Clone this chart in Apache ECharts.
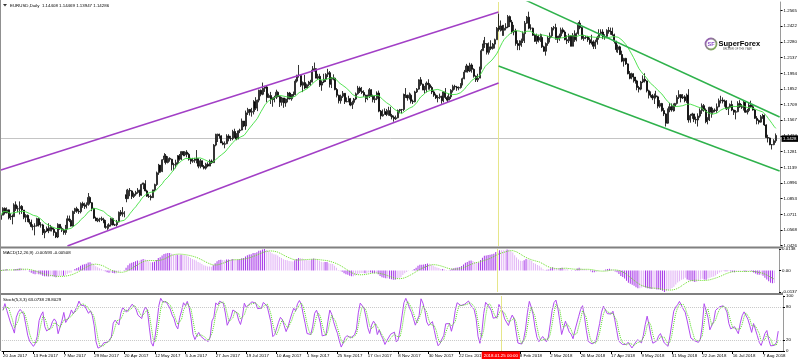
<!DOCTYPE html>
<html><head><meta charset="utf-8">
<script src="https://cdn.jsdelivr.net/npm/echarts@6/dist/echarts.min.js"></script>
<style>html,body{margin:0;padding:0;background:#fff}#c{width:800px;height:360px}</style>
</head><body><div id="c"></div>
<script>
// ---- DATA (EURUSD daily, prices x 10000) ----
const firstDay = '2017-01-20';
const noTradeDays = ['2017-12-25', '2018-01-01'];
const open = [10665,
10703,10766,10724,10752,10680,10695,10690,10798,10762,
10762,10784,10750,10684,10702,10657,10639,10600,10604,10605,
10672,10615,10615,10543,10560,10580,10562,10589,10575,10546,
10505,10620,10582,10567,10546,10581,10671,10655,10604,10737,
10763,10740,10735,10809,10790,10785,10798,10865,10817,10765,
10677,10652,10667,10672,10662,10644,10592,10600,10615,10672,
10614,10616,10642,10730,10714,10716,10890,10854,10929,10924,
10873,10895,10910,10931,10886,10983,10990,10924,10876,10873,
10863,10934,10982,11089,11158,11101,11208,11242,11183,11220,
11212,11163,11162,11181,11243,11213,11282,11252,11277,11257,
11212,11195,11202,11215,11216,11149,11199,11147,11131,11167,
11150,11196,11181,11341,11380,11440,11425,11360,11348,11354,
11424,11402,11400,11465,11414,11396,11471,11478,11560,11515,
11635,11665,11641,11646,11735,11677,11750,11840,11803,11858,
11870,11773,11792,11755,11758,11775,11822,11782,11730,11770,
11725,11760,11815,11763,11800,11800,11923,11977,11974,11886,
11910,11860,11890,11915,11918,12023,12036,11950,11967,11887,
11915,11940,11985,12000,11895,11940,11950,11846,11794,11745,
11785,11812,11735,11738,11763,11705,11730,11760,11808,11860,
11830,11820,11795,11765,11785,11845,11785,11755,11763,11815,
11650,11607,11620,11645,11620,11655,11610,11595,11580,11590,
11655,11665,11665,11800,11795,11770,11795,11740,11735,11825,
11850,11935,11895,11845,11845,11905,11890,11865,11825,11795,
11770,11775,11785,11745,11825,11775,11750,11780,11840,11875,
11870,11860,11865,11890,11945,12005,12060,12015,12070,12030,
11968,11935,11950,12035,12200,12262,12265,12185,12235,12220,
12260,12300,12405,12395,12425,12385,12405,12415,12510,12460,
12370,12380,12265,12250,12250,12290,12355,12450,12505,12405,
12405,12340,12285,12330,12295,12320,12235,12195,12265,12315,
12335,12405,12410,12310,12305,12335,12390,12370,12300,12290,
12335,12240,12340,12300,12355,12450,12410,12310,12320,12325,
12300,12270,12280,12240,12280,12320,12355,12370,12325,12330,
12385,12375,12375,12345,12285,12210,12235,12165,12105,12130,
12080,11990,11950,11990,11960,11925,11865,11850,11915,11940,
11925,11835,11810,11795,11770,11790,11780,11695,11720,11655,
11625,11540,11665,11690,11660,11695,11720,11775,11800,11770,
11780,11745,11795,11570,11610,11625,11575,11570,11605,11655,
11700,11660,11555,11570,11685,11640,11660,11655,11690,11745,
11750,11740,11740,11670,11685,11710,11660,11640,11645,11720,
11690,11685,11730,11640,11655,11705,11690,11660,11585,11565,
11550,11600,11610,11525,11410,11405,11345,11345,11380];
const high = [
10718,10775,10774,10774,10755,10720,10710,10812,10829,10790,
10829,10795,10750,10713,10710,10670,10663,10621,10630,10680,
10680,10640,10625,10577,10600,10630,10615,10600,10590,10555,
10630,10620,10600,10580,10615,10700,10700,10670,10745,10770,
10780,10760,10820,10826,10817,10820,10905,10875,10822,10770,
10690,10680,10680,10690,10680,10660,10620,10630,10680,10680,
10625,10660,10737,10750,10777,10740,10936,10943,10950,10930,
10910,10925,10950,10935,10990,10998,11022,10935,10898,10890,
10935,10990,11100,11170,11160,11213,11268,11260,11240,11230,
11217,11180,11208,11250,11260,11285,11285,11285,11295,11270,
11225,11225,11225,11296,11220,11215,11200,11160,11180,11185,
11210,11210,11350,11445,11445,11445,11430,11375,11375,11440,
11440,11425,11480,11490,11450,11475,11490,11583,11560,11655,
11680,11670,11680,11750,11777,11755,11845,11847,11910,11880,
11885,11810,11825,11775,11790,11845,11830,11790,11780,11770,
11765,11825,11825,11805,11828,11940,11980,12070,11982,11920,
11980,11900,11925,11935,12060,12092,12040,11990,11990,11930,
11990,11995,12035,12015,11960,11985,11955,11860,11800,11800,
11833,11815,11775,11790,11770,11745,11770,11820,11880,11875,
11870,11840,11800,11800,11860,11850,11800,11790,11830,11837,
11660,11665,11675,11670,11690,11690,11625,11610,11610,11665,
11670,11670,11810,11860,11800,11820,11810,11755,11835,11860,
11940,11960,11900,11880,11920,11940,11905,11880,11840,11810,
11795,11810,11790,11830,11860,11790,11810,11850,11890,11890,
11880,11875,11905,11955,12025,12080,12065,12090,12085,12040,
11975,11990,12055,12215,12295,12325,12265,12275,12295,12270,
12310,12415,12537,12475,12435,12435,12450,12525,12520,12480,
12435,12400,12295,12295,12310,12375,12470,12515,12555,12440,
12410,12355,12355,12345,12355,12350,12245,12275,12335,12365,
12415,12425,12445,12335,12355,12410,12410,12385,12340,12355,
12340,12360,12385,12365,12460,12476,12415,12345,12335,12335,
12320,12345,12295,12300,12335,12395,12395,12395,12350,12395,
12415,12410,12410,12355,12290,12255,12245,12200,12135,12135,
12085,12015,12000,11995,11955,11935,11880,11925,11975,11995,
11930,11845,11830,11805,11810,11835,11790,11750,11725,11680,
11630,11675,11725,11720,11720,11725,11795,11840,11805,11805,
11795,11810,11850,11625,11635,11625,11600,11630,11675,11720,
11715,11675,11595,11690,11690,11680,11675,11720,11765,11790,
11775,11755,11750,11690,11720,11745,11665,11660,11740,11750,
11715,11745,11740,11670,11725,11745,11710,11670,11605,11575,
11615,11625,11620,11530,11435,11410,11350,11395,11447];
const low = [
10660,10703,10709,10720,10665,10660,10620,10687,10742,10730,
10710,10715,10667,10640,10640,10620,10592,10566,10520,10600,
10600,10590,10523,10494,10550,10540,10557,10555,10516,10495,
10495,10570,10550,10525,10525,10575,10640,10600,10600,10715,
10725,10715,10720,10770,10760,10765,10790,10800,10740,10670,
10650,10640,10640,10650,10630,10580,10570,10580,10600,10610,
10605,10600,10638,10695,10690,10684,10821,10850,10876,10850,
10860,10880,10898,10870,10880,10940,10920,10870,10860,10838,
10860,10920,10970,11070,11090,11095,11180,11165,11175,11190,
11110,11110,11130,11165,11200,11205,11240,11240,11230,11200,
11168,11180,11180,11175,11130,11130,11140,11120,11118,11140,
11150,11170,11180,11330,11370,11400,11360,11340,11312,11350,
11375,11380,11385,11405,11385,11395,11450,11475,11505,11480,
11615,11610,11600,11620,11660,11650,11730,11785,11795,11825,
11730,11770,11715,11690,11730,11760,11775,11688,11700,11680,
11690,11730,11755,11745,11780,11795,11910,11955,11870,11823,
11850,11860,11875,11880,11910,12010,11950,11935,11870,11835,
11905,11915,11960,11865,11860,11930,11840,11775,11720,11718,
11770,11715,11730,11730,11695,11670,11710,11750,11800,11815,
11805,11780,11730,11750,11770,11780,11730,11725,11750,11640,
11575,11600,11620,11605,11608,11600,11575,11554,11570,11585,
11630,11630,11650,11770,11745,11755,11720,11715,11730,11815,
11845,11880,11840,11810,11820,11845,11845,11805,11780,11760,
11730,11760,11717,11730,11760,11730,11750,11760,11820,11845,
11835,11840,11855,11885,11940,12005,12000,12005,12000,11955,
11915,11915,11950,12030,12200,12225,12165,12165,12205,12210,
12220,12300,12375,12375,12335,12335,12385,12405,12415,12355,
12340,12245,12205,12205,12235,12270,12270,12445,12395,12385,
12335,12280,12260,12275,12280,12225,12190,12155,12245,12275,
12320,12385,12300,12270,12290,12315,12355,12295,12260,12270,
12240,12240,12280,12285,12345,12395,12300,12290,12305,12280,
12255,12255,12215,12215,12255,12300,12345,12305,12300,12315,
12355,12345,12335,12265,12185,12180,12160,12095,12055,12070,
11985,11940,11940,11910,11900,11840,11820,11840,11905,11910,
11820,11765,11775,11750,11715,11765,11675,11680,11645,11605,
11510,11535,11640,11645,11645,11650,11710,11760,11730,11760,
11730,11725,11545,11545,11580,11550,11535,11510,11590,11625,
11645,11540,11530,11560,11590,11620,11640,11635,11685,11720,
11720,11690,11660,11615,11675,11650,11615,11575,11640,11680,
11670,11655,11635,11620,11640,11680,11655,11580,11530,11530,
11545,11580,11515,11405,11365,11340,11301,11340,11362];
const close = [
10703,10766,10724,10752,10680,10695,10690,10798,10762,10762,
10784,10750,10684,10702,10657,10639,10600,10604,10605,10672,
10615,10615,10543,10560,10580,10562,10589,10575,10546,10505,
10620,10582,10567,10546,10581,10671,10655,10604,10737,10763,
10740,10735,10809,10790,10785,10798,10865,10817,10765,10677,
10652,10667,10672,10662,10644,10592,10600,10615,10672,10614,
10616,10642,10730,10714,10716,10726,10854,10929,10924,10873,
10895,10910,10931,10886,10983,10997,10924,10876,10873,10863,
10934,10982,11089,11158,11101,11208,11242,11183,11220,11212,
11163,11162,11181,11243,11213,11282,11252,11277,11257,11212,
11195,11202,11215,11216,11149,11199,11147,11131,11167,11150,
11196,11181,11341,11380,11440,11425,11360,11348,11354,11424,
11402,11400,11465,11414,11396,11471,11478,11560,11515,11635,
11665,11641,11646,11735,11677,11750,11840,11803,11858,11870,
11773,11792,11755,11758,11775,11822,11782,11730,11770,11725,
11760,11815,11763,11800,11800,11923,11977,11974,11886,11910,
11860,11890,11915,11918,12023,12036,11950,11967,11887,11915,
11940,11985,12000,11895,11940,11950,11846,11794,11745,11785,
11812,11735,11738,11763,11705,11730,11760,11808,11860,11830,
11820,11795,11765,11785,11845,11785,11755,11763,11815,11650,
11607,11620,11645,11620,11655,11610,11595,11580,11590,11655,
11665,11665,11800,11795,11770,11795,11740,11735,11825,11850,
11935,11895,11845,11845,11905,11890,11865,11825,11795,11770,
11775,11785,11745,11825,11775,11750,11780,11840,11875,11870,
11860,11865,11890,11945,12005,12060,12015,12070,12030,11968,
11935,11950,12035,12200,12262,12265,12185,12235,12220,12260,
12300,12405,12395,12425,12385,12405,12415,12510,12460,12370,
12380,12265,12250,12250,12290,12355,12450,12505,12405,12405,
12340,12285,12330,12295,12320,12235,12195,12265,12315,12335,
12405,12410,12310,12305,12335,12390,12370,12300,12290,12335,
12240,12340,12300,12355,12450,12410,12310,12320,12325,12300,
12270,12280,12240,12280,12320,12355,12370,12325,12330,12385,
12375,12375,12345,12285,12210,12235,12165,12105,12130,12080,
11990,11950,11990,11960,11925,11865,11850,11915,11940,11925,
11835,11810,11795,11770,11790,11780,11695,11720,11655,11625,
11540,11665,11690,11660,11695,11720,11775,11800,11770,11780,
11745,11795,11570,11610,11625,11575,11570,11605,11655,11700,
11660,11555,11570,11685,11640,11660,11655,11690,11745,11750,
11740,11740,11670,11685,11710,11660,11640,11645,11720,11690,
11685,11730,11640,11655,11705,11690,11660,11585,11565,11550,
11600,11610,11525,11410,11405,11345,11345,11380,11428.6];

// price-axis tick labels
const priceTicks = [1.0426,1.0568,1.0711,1.0853,1.0996,1.1139,1.1281,1.1424,1.1567,1.1709,1.1852,1.1994,1.2137,1.2280,1.2422,1.2565];
const stochTicks = [0, 20, 80, 100];
const stochLevels = [20, 80];
// drawn objects: [bar index, price]
const purpleUpper = [[0, 1.1115], [262, 1.2552]];
const purpleLower = [[35, 1.0423], [262, 1.1906]];
const greenUpper = [[276, 1.2662], [410, 1.1597]];
const greenLower = [[262, 1.2061], [410, 1.1105]];
const markerIndex = 262;
const markerLabel = '2018.01.25 00:00';
const headerText = 'EURUSD,Daily  1.14408 1.14469 1.13947 1.14286';
const macdText = 'MACD(12,26,9) -0.00593 -0.00508';
const stochText = 'Stoch(5,3,3) 63.0738 28.8029';

// ---- BUILD ----
const MONTHS = ['Jan','Feb','Mar','Apr','May','Jun','Jul','Aug','Sep','Oct','Nov','Dec'];
const cats = [];
{ let d = new Date(firstDay + 'T00:00:00Z');
  while (cats.length < close.length) {
    const iso = d.toISOString().slice(0, 10), dow = d.getUTCDay();
    if (dow !== 0 && dow !== 6 && noTradeDays.indexOf(iso) < 0)
      cats.push(d.getUTCDate() + ' ' + MONTHS[d.getUTCMonth()] + ' ' + d.getUTCFullYear());
    d = new Date(d.getTime() + 86400000);
  } }
cats.push('', '');
const P = v => v / 10000;
const C = close.map(P), H = high.map(P), L = low.map(P), O = open.map(P);
const candle = C.map((c, i) => [O[i], c, L[i], H[i]]);
// indicators derived from the price arrays
function sma(a, n) { return a.map((v, i) => { const s = Math.max(0, i - n + 1); let t = 0; for (let j = s; j <= i; j++) t += a[j]; return t / (i - s + 1); }); }
function ema(a, n) { const k = 2 / (n + 1), o = []; a.forEach((v, i) => o.push(i ? o[i - 1] + k * (v - o[i - 1]) : v)); return o; }
const ma = sma(C, 13);
const e12 = ema(C, 12), e26 = ema(C, 26);
const macd = C.map((c, i) => e12[i] - e26[i]);
const macdSig = sma(macd, 9);
const num = [], den = [];
C.forEach((c, i) => { let hh = -1e9, ll = 1e9; for (let j = Math.max(0, i - 4); j <= i; j++) { hh = Math.max(hh, H[j]); ll = Math.min(ll, L[j]); } num.push(c - ll); den.push(hh - ll); });
const stK = C.map((c, i) => { let a = 0, b = 0; for (let j = Math.max(0, i - 2); j <= i; j++) { a += num[j]; b += den[j]; } return b ? 100 * a / b : 50; });
const stD = sma(stK, 3);
const macdBars = macd.map((v, i) => ({ value: v, itemStyle: { color: (i === 0 || Math.abs(v) >= Math.abs(macd[i - 1])) ? '#a838e8' : '#e2b4f6' } }));
const mAll = macd.concat(macdSig);
const mMax = Math.max.apply(null, mAll), mMin = Math.min.apply(null, mAll);

const FONT = '"Liberation Sans", Arial, sans-serif';
const FS = 4.4;
const GW = 783;
const grids = [
  { left: 0, top: 2, width: GW, height: 244 },
  { left: 0, top: 249, width: GW, height: 43 },
  { left: 0, top: 296, width: GW, height: 55 }
];
const xAxes = [0, 1, 2].map(k => ({
  type: 'category', gridIndex: k, data: cats, boundaryGap: true,
  axisLine: { show: k === 2, lineStyle: { color: '#000', width: 1 } },
  axisTick: { show: k === 2, interval: 15, alignWithLabel: true, length: 3, lineStyle: { color: '#000', width: 1 } },
  axisLabel: { show: k === 2, interval: 15, align: 'left', fontSize: FS, color: '#000', margin: 2.5, fontFamily: FONT },
  splitLine: { show: false }
}));
const axisLineStyle = { show: true, lineStyle: { color: '#9a9a9a', width: 1 } };
const yAxes = [
  { type: 'value', gridIndex: 0, position: 'right', min: 1.0423, max: 1.2643,
    axisLine: axisLineStyle, splitLine: { show: false },
    axisTick: { show: true, length: 2, customValues: priceTicks, lineStyle: { color: '#000' } },
    axisLabel: { customValues: priceTicks, fontSize: FS, color: '#000', margin: 3, fontFamily: FONT, formatter: v => v.toFixed(4) } },
  { type: 'value', gridIndex: 1, position: 'right', min: mMin, max: mMax,
    axisLine: axisLineStyle, splitLine: { show: false },
    axisTick: { show: true, length: 2, customValues: [mMin, 0, mMax], lineStyle: { color: '#000' } },
    axisLabel: { customValues: [mMin, 0, mMax], fontSize: FS, color: '#000', margin: 3, fontFamily: FONT, formatter: v => v === 0 ? '0.00' : v.toFixed(4) } },
  { type: 'value', gridIndex: 2, position: 'right', min: 0, max: 100,
    axisLine: axisLineStyle, splitLine: { show: false },
    axisTick: { show: true, length: 2, customValues: stochTicks, lineStyle: { color: '#000' } },
    axisLabel: { customValues: stochTicks, fontSize: FS, color: '#000', margin: 3, fontFamily: FONT } }
];
const vLine = { xAxis: markerIndex, lineStyle: { color: '#e6e68a', width: 1, type: 'solid' }, label: { show: false } };
const lastClose = C[C.length - 1];
const trend = (data, color) => ({ type: 'line', xAxisIndex: 0, yAxisIndex: 0, data, symbol: 'none', silent: true, lineStyle: { color, width: 1.5 }, z: 5 });

const option = {
  animation: false,
  backgroundColor: '#ffffff',
  textStyle: { fontFamily: FONT },
  grid: grids, xAxis: xAxes, yAxis: yAxes,
  series: [
    { type: 'candlestick', xAxisIndex: 0, yAxisIndex: 0, data: candle, barWidth: 1.5, z: 3,
      itemStyle: { color: '#ffffff', color0: '#000000', borderColor: '#000000', borderColor0: '#000000', borderWidth: 0.8 },
      markLine: { symbol: 'none', silent: true, animation: false, z: 1,
        data: [
          { yAxis: lastClose, lineStyle: { color: '#c4c4c4', width: 1, type: 'solid' },
            label: { show: true, position: 'end', distance: 1, formatter: (Math.floor(lastClose * 10000) / 10000).toFixed(4), backgroundColor: '#000', color: '#fff', fontSize: FS, padding: [1.5, 1.5, 1, 1.5], fontFamily: FONT } },
          vLine ] } },
    { type: 'line', xAxisIndex: 0, yAxisIndex: 0, data: ma, symbol: 'none', silent: true, lineStyle: { color: '#3fe03f', width: 0.9 }, z: 4 },
    trend(purpleUpper, '#a23fc6'), trend(purpleLower, '#a23fc6'),
    trend(greenUpper, '#2fb24c'), trend(greenLower, '#2fb24c'),
    { type: 'bar', xAxisIndex: 1, yAxisIndex: 1, data: macdBars, barWidth: 1, silent: true,
      markLine: { symbol: 'none', silent: true, animation: false, data: [vLine] } },
    { type: 'line', xAxisIndex: 1, yAxisIndex: 1, data: macdSig, symbol: 'none', silent: true, lineStyle: { color: '#66dd22', width: 1, type: 'dotted' }, z: 4 },
    { type: 'line', xAxisIndex: 2, yAxisIndex: 2, data: stK, symbol: 'none', silent: true, lineStyle: { color: '#b24cf0', width: 1 }, z: 4,
      markLine: { symbol: 'none', silent: true, animation: false, z: 10,
        data: stochLevels.map(v => ({ yAxis: v, lineStyle: { color: '#c8c8c8', width: 1, type: 'dotted' }, label: { show: false } }))
          .concat([Object.assign({}, vLine, { label: { show: true, position: 'start', distance: 0.5, formatter: markerLabel, backgroundColor: '#ff0000', color: '#fff', fontSize: FS, padding: [2, 2, 1.5, 2], fontFamily: FONT } })]) } },
    { type: 'line', xAxisIndex: 2, yAxisIndex: 2, data: stD, symbol: 'none', silent: true, lineStyle: { color: '#55dd22', width: 1, type: 'dotted' }, z: 5 }
  ],
  graphic: [
    { type: 'rect', z: 100, shape: { x: 0, y: 246.5, width: GW, height: 2 }, style: { fill: '#808080' } },
    { type: 'rect', z: 100, shape: { x: 0, y: 293, width: GW, height: 2 }, style: { fill: '#808080' } },
    { type: 'rect', z: 100, shape: { x: 0, y: 0, width: 1, height: 351 }, style: { fill: '#909090' } },
    { type: 'polygon', z: 100, shape: { points: [[3, 4], [7, 4], [5, 6.5]] }, style: { fill: '#333' } },
    { type: 'text', z: 100, style: { x: 10, y: 5.5, text: headerText, fontSize: FS, fill: '#000', font: FS + 'px ' + FONT, verticalAlign: 'middle' } },
    { type: 'text', z: 100, style: { x: 3, y: 252.5, text: macdText, fontSize: FS, fill: '#000', font: FS + 'px ' + FONT, verticalAlign: 'middle' } },
    { type: 'text', z: 100, style: { x: 3, y: 300, text: stochText, fontSize: FS, fill: '#000', font: FS + 'px ' + FONT, verticalAlign: 'middle' } },
    { type: 'group', z: 100, x: 704, y: 37, children: [
      { type: 'circle', shape: { cx: 7, cy: 7, r: 5.5 }, style: { fill: '#fff', lineWidth: 1.8,
        stroke: new echarts.graphic.LinearGradient(0, 0, 1, 1, [{ offset: 0, color: '#9b4dca' }, { offset: 1, color: '#7cc242' }]) } },
      { type: 'text', style: { x: 7, y: 7.3, text: 'SF', font: 'bold 5.5px ' + FONT, fill: '#8c4cc4', align: 'center', verticalAlign: 'middle' } },
      { type: 'text', style: { x: 14.5, y: 6.5, text: 'SuperForex', font: 'bold 7.5px ' + FONT, verticalAlign: 'middle',
        fill: new echarts.graphic.LinearGradient(0, 0, 1, 0, [{ offset: 0, color: '#7cc242' }, { offset: 0.45, color: '#7cc242' }, { offset: 0.5, color: '#9b4dca' }, { offset: 1, color: '#9b4dca' }]) } },
      { type: 'text', style: { x: 19, y: 12, text: 'BROKER OF THE YEAR', font: '2.6px ' + FONT, fill: '#555', verticalAlign: 'middle' } }
    ] }
  ]
};
const chart = echarts.init(document.getElementById('c'), null, { renderer: 'canvas' });
chart.setOption(option);
</script></body></html>
